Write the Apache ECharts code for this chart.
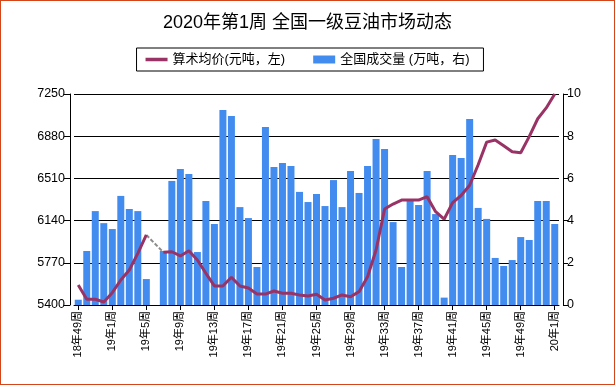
<!DOCTYPE html>
<html>
<head>
<meta charset="utf-8">
<script src="https://cdn.jsdelivr.net/npm/echarts@6/dist/echarts.min.js"></script>
<style>
html,body{margin:0;padding:0;background:#fff;}
#wrap{position:relative;width:615px;height:385px;}
#chart{position:absolute;left:0;top:0;width:615px;height:385px;}
#frame{position:absolute;left:0;top:0;width:615px;height:385px;box-sizing:border-box;border:1px solid #D4461A;pointer-events:none;}
</style>
</head>
<body>
<div id="wrap"><div id="chart"></div><div id="frame"></div></div>
<script>
var categories = [
  '18年49周','18年50周','18年51周','18年52周',
  '19年1周','19年2周','19年3周','19年4周','19年5周','19年6周','19年7周','19年8周',
  '19年9周','19年10周','19年11周','19年12周','19年13周','19年14周','19年15周','19年16周',
  '19年17周','19年18周','19年19周','19年20周','19年21周','19年22周','19年23周','19年24周',
  '19年25周','19年26周','19年27周','19年28周','19年29周','19年30周','19年31周','19年32周',
  '19年33周','19年34周','19年35周','19年36周','19年37周','19年38周','19年39周','19年40周',
  '19年41周','19年42周','19年43周','19年44周','19年45周','19年46周','19年47周','19年48周',
  '19年49周','19年50周','19年51周','19年52周','20年1周'
];
var priceName = '算术均价(元吨，左)';
var volumeName = '全国成交量 (万吨，右)';
var priceValues = [
  5575,5450,5450,5426,5508,5619,5707,5853,6014,null,
  5862,5867,5830,5876,5795,5678,5567,5567,5643,5567,
  5549,5496,5496,5523,5503,5503,5488,5479,5494,5444,
  5459,5488,5473,5517,5648,5882,6241,6285,6320,6320,
  6320,6350,6218,6152,6298,6360,6450,6630,6828,6847,
  6797,6744,6735,6876,7033,7128,7250
];
var volumeValues = [
  0.25,2.56,4.45,3.88,3.60,5.17,4.55,4.45,1.23,null,
  2.56,5.88,6.45,6.21,2.51,4.93,3.84,9.24,8.96,4.64,
  4.12,1.80,8.44,6.54,6.73,6.59,5.36,4.88,5.26,4.69,
  5.92,4.64,6.35,5.31,6.59,7.87,7.39,3.93,1.80,4.93,
  4.74,6.35,4.31,0.35,7.11,6.97,8.82,4.60,4.08,2.23,
  1.85,2.13,3.22,3.08,4.93,4.93,3.84
];
var leftTicks = [5400, 7250, 370];
var rightTicks = [0, 10, 2];

// gray dashed bridge across missing price points
var bridgeValues = priceValues.map(function (v, i) {
  if (v == null) return null;
  var prevNull = i > 0 && priceValues[i - 1] == null;
  var nextNull = i < priceValues.length - 1 && priceValues[i + 1] == null;
  return (prevNull || nextNull) ? v : null;
});

var FONT = 'Arial, "Liberation Sans", "Noto Sans CJK SC", sans-serif';
var chart = echarts.init(document.getElementById('chart'), null, {renderer: 'canvas'});
chart.setOption({
  animation: false,
  backgroundColor: '#fff',
  textStyle: {fontFamily: FONT, color: '#000'},
  title: {
    text: '2020年第1周 全国一级豆油市场动态',
    left: 'center', top: 9,
    textStyle: {fontSize: 18, fontWeight: 'normal', color: '#000', fontFamily: FONT}
  },
  legend: {
    top: 48, left: 'center',
    borderColor: '#000', borderWidth: 1,
    padding: [5, 14, 5, 9],
    itemGap: 28, itemWidth: 22, itemHeight: 8,
    symbolKeepAspect: true,
    textStyle: {fontSize: 13, color: '#000', fontFamily: FONT},
    data: [
      {name: priceName, icon: 'path://M0,0 L22,0 L22,3.5 L0,3.5 Z', itemStyle: {color: '#993366'}},
      {name: volumeName, icon: 'rect'}
    ]
  },
  grid: {left: 74, right: 56, top: 94, bottom: 80},
  xAxis: {
    type: 'category',
    data: categories,
    boundaryGap: true,
    axisLine: {lineStyle: {color: '#000', width: 1}},
    axisTick: {show: true, interval: 3, alignWithLabel: true, length: 5, lineStyle: {color: '#000'}},
    axisLabel: {interval: 3, rotate: 90, fontSize: 11, color: '#000', margin: 6, fontFamily: FONT},
    splitLine: {show: false}
  },
  yAxis: [{
    type: 'value', position: 'left', offset: 4,
    min: leftTicks[0], max: leftTicks[1], interval: leftTicks[2],
    axisLine: {show: true, lineStyle: {color: '#000'}},
    axisTick: {show: true, length: 6, lineStyle: {color: '#000'}},
    axisLabel: {fontSize: 12.5, color: '#000', margin: 5, fontFamily: FONT,
      formatter: function (v) { return String(v); }},
    splitLine: {show: true, lineStyle: {color: '#000', width: 1}}
  }, {
    type: 'value', position: 'right', offset: 4,
    min: rightTicks[0], max: rightTicks[1], interval: rightTicks[2],
    axisLine: {show: true, lineStyle: {color: '#000'}},
    axisTick: {show: true, length: 5, lineStyle: {color: '#000'}},
    axisLabel: {fontSize: 12.5, color: '#000', margin: 4, fontFamily: FONT,
      formatter: function (v) { return String(v); }},
    splitLine: {show: false}
  }],
  series: [{
    name: volumeName, type: 'bar', yAxisIndex: 1,
    data: volumeValues, barWidth: 7,
    itemStyle: {color: '#438CEF'}, z: 2
  }, {
    name: 'bridge', type: 'line', yAxisIndex: 0,
    data: bridgeValues, connectNulls: true, symbol: 'none',
    lineStyle: {color: '#8C8C8C', width: 2, type: [4, 2]}, z: 3
  }, {
    name: priceName, type: 'line', yAxisIndex: 0,
    data: priceValues, connectNulls: false, symbol: 'none',
    lineStyle: {color: '#993366', width: 3}, itemStyle: {color: '#993366'}, z: 4
  }]
});
</script>
</body>
</html>
